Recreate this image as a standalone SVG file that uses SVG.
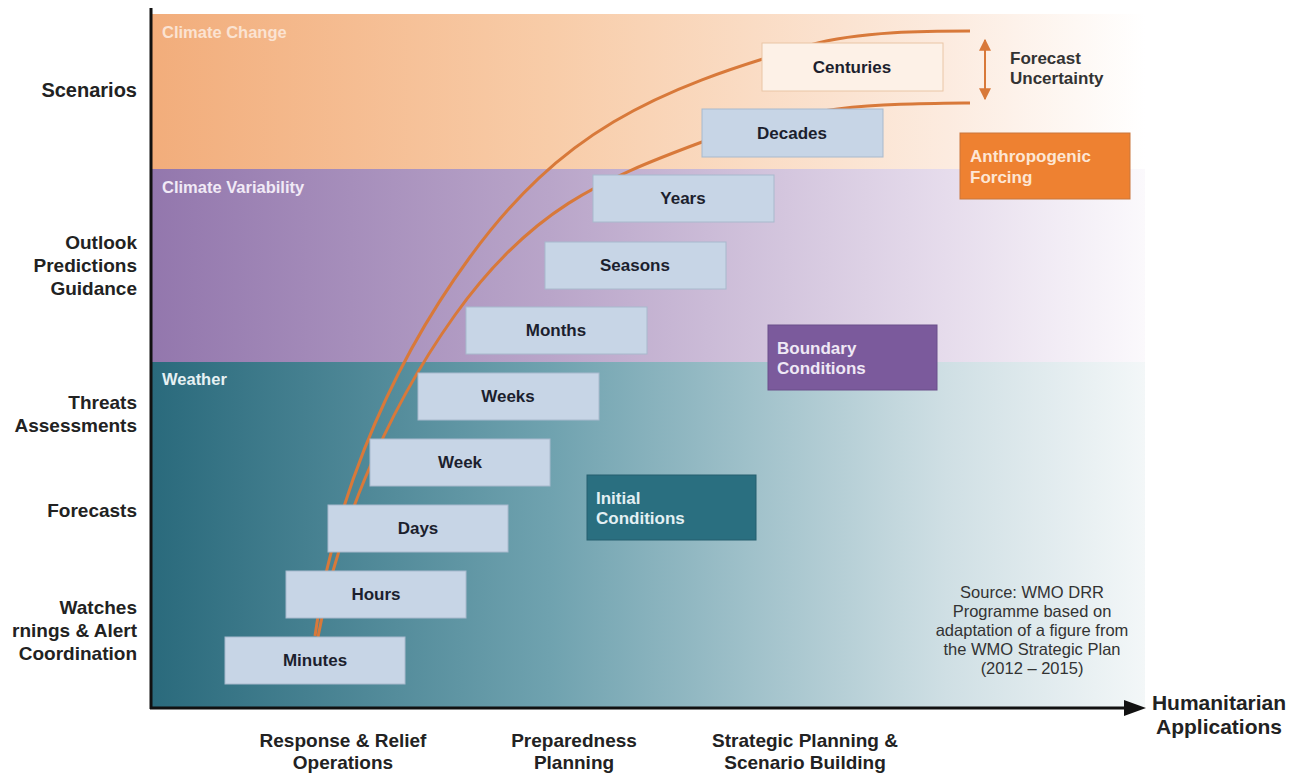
<svg xmlns="http://www.w3.org/2000/svg" width="1300" height="773" viewBox="0 0 1300 773">
<defs>
<linearGradient id="gOr" x1="0" y1="0" x2="1" y2="0">
<stop offset="0" stop-color="#f2ad7b"/><stop offset="0.4" stop-color="#f8cca8"/><stop offset="0.8" stop-color="#fcebdf"/><stop offset="1" stop-color="#ffffff"/>
</linearGradient>
<linearGradient id="gPu" x1="0" y1="0" x2="1" y2="0">
<stop offset="0" stop-color="#9377ad"/><stop offset="0.4" stop-color="#b9a5c9"/><stop offset="0.8" stop-color="#e6dcec"/><stop offset="1" stop-color="#fbf9fc"/>
</linearGradient>
<linearGradient id="gTe" x1="0" y1="0" x2="1" y2="0">
<stop offset="0" stop-color="#2a6a7c"/><stop offset="0.4" stop-color="#6fa2af"/><stop offset="0.8" stop-color="#cfdfe4"/><stop offset="1" stop-color="#f3f7f8"/>
</linearGradient>
<marker id="ah" viewBox="0 0 10 10" refX="9" refY="5" markerWidth="6" markerHeight="6" orient="auto-start-reverse"><path d="M0,0 L10,5 L0,10 z" fill="#d8793a"/></marker>
<style>
text{font-family:"Liberation Sans",Arial,sans-serif;font-weight:bold}
.side{font-size:19px;fill:#222;text-anchor:end}
.bot{font-size:19px;fill:#222;text-anchor:middle}
.band{font-size:16.5px}
.box rect{fill:#c7d5e6;stroke:#a8b9cd;stroke-width:1}
.box text{font-size:17px;fill:#1c1f2e;text-anchor:middle}
.tag text{font-size:17px}
.curve{fill:none;stroke:#d8793a;stroke-width:3}
.src{font-size:16.5px;font-weight:normal;fill:#333;text-anchor:middle}
.fu{font-size:17px;fill:#333}
.ha{font-size:21px;fill:#222;text-anchor:middle}
</style>
</defs>
<rect width="1300" height="773" fill="#ffffff"/>
<g id="bands">
<rect x="152" y="14" width="993" height="155" fill="url(#gOr)"/>
<rect x="152" y="169" width="993" height="193" fill="url(#gPu)"/>
<rect x="152" y="362" width="993" height="345" fill="url(#gTe)"/>
<text class="band" x="162" y="38" fill="#fbe3d2">Climate Change</text>
<text class="band" x="162" y="193" fill="#f1eaf6">Climate Variability</text>
<text class="band" x="162" y="385" fill="#e6f1f3">Weather</text>
</g>
<g id="connectors">
<path class="curve" d="M315,636 C330,520 380,380 470,257 S650,90 810,45 C860,31 930,31 970,31"/>
<path class="curve" d="M318,637 C335,540 380,420 455,315 S600,180 702,142 C804,104 880,104 970,103"/>
<line x1="985" y1="40" x2="985" y2="99" stroke="#d8793a" stroke-width="2" marker-start="url(#ah)" marker-end="url(#ah)"/>
</g>
<g id="axes">
<line x1="151" y1="8" x2="151" y2="709" stroke="#111" stroke-width="3"/>
<line x1="150" y1="708" x2="1128" y2="708" stroke="#111" stroke-width="3"/>
<path d="M1124,700 L1146,708 L1124,716 z" fill="#111"/>
</g>
<g id="centuries" class="box"><rect x="762" y="43" width="181" height="48" style="fill:#fdf1e7;stroke:#e9c6a6"/><text x="852" y="73">Centuries</text></g>
<g id="decades" class="box"><rect x="702" y="109" width="181" height="48"/><text x="792" y="139">Decades</text></g>
<g id="years" class="box"><rect x="593" y="175" width="181" height="47"/><text x="683" y="204">Years</text></g>
<g id="seasons" class="box"><rect x="545" y="242" width="181" height="47"/><text x="635" y="271">Seasons</text></g>
<g id="months" class="box"><rect x="466" y="307" width="181" height="47"/><text x="556" y="336">Months</text></g>
<g id="weeks" class="box"><rect x="418" y="373" width="181" height="47"/><text x="508" y="402">Weeks</text></g>
<g id="week" class="box"><rect x="370" y="439" width="180" height="47"/><text x="460" y="468">Week</text></g>
<g id="days" class="box"><rect x="328" y="505" width="180" height="47"/><text x="418" y="534">Days</text></g>
<g id="hours" class="box"><rect x="286" y="571" width="180" height="47"/><text x="376" y="600">Hours</text></g>
<g id="minutes" class="box"><rect x="225" y="637" width="180" height="47"/><text x="315" y="666">Minutes</text></g>
<g id="anthropogenic" class="tag"><rect x="960" y="133" width="170" height="66" fill="#ee8131" stroke="#c9763c"/><text x="970" y="162" fill="#fde6d4">Anthropogenic</text><text x="970" y="183" fill="#fde6d4">Forcing</text></g>
<g id="boundary" class="tag"><rect x="768" y="325" width="169" height="65" fill="#7b5a9c" stroke="#6a4e8a"/><text x="777" y="354" fill="#efe8f5">Boundary</text><text x="777" y="374" fill="#efe8f5">Conditions</text></g>
<g id="initial" class="tag"><rect x="587" y="475" width="169" height="65" fill="#2a6f80" stroke="#255f6e"/><text x="596" y="504" fill="#e3f0f3">Initial</text><text x="596" y="524" fill="#e3f0f3">Conditions</text></g>
<g id="uncertainty"><text class="fu" x="1010" y="64">Forecast</text><text class="fu" x="1010" y="84">Uncertainty</text></g>
<g id="left-labels">
<text class="side" x="137" y="97" style="font-size:20px">Scenarios</text>
<text class="side" x="137" y="249">Outlook</text>
<text class="side" x="137" y="272">Predictions</text>
<text class="side" x="137" y="295">Guidance</text>
<text class="side" x="137" y="409">Threats</text>
<text class="side" x="137" y="432">Assessments</text>
<text class="side" x="137" y="517">Forecasts</text>
<text class="side" x="137" y="614">Watches</text>
<text class="side" x="137" y="637">rnings &amp; Alert</text>
<text class="side" x="137" y="660">Coordination</text>
</g>
<g id="bottom-labels">
<text class="bot" x="343" y="747">Response &amp; Relief</text>
<text class="bot" x="343" y="769">Operations</text>
<text class="bot" x="574" y="747">Preparedness</text>
<text class="bot" x="574" y="769">Planning</text>
<text class="bot" x="805" y="747">Strategic Planning &amp;</text>
<text class="bot" x="805" y="769">Scenario Building</text>
<text class="ha" x="1219" y="710">Humanitarian</text>
<text class="ha" x="1219" y="734">Applications</text>
</g>
<g id="source">
<text class="src" x="1032" y="598">Source: WMO DRR</text>
<text class="src" x="1032" y="617">Programme based on</text>
<text class="src" x="1032" y="636">adaptation of a figure from</text>
<text class="src" x="1032" y="655">the WMO Strategic Plan</text>
<text class="src" x="1032" y="674">(2012 – 2015)</text>
</g>
</svg>
